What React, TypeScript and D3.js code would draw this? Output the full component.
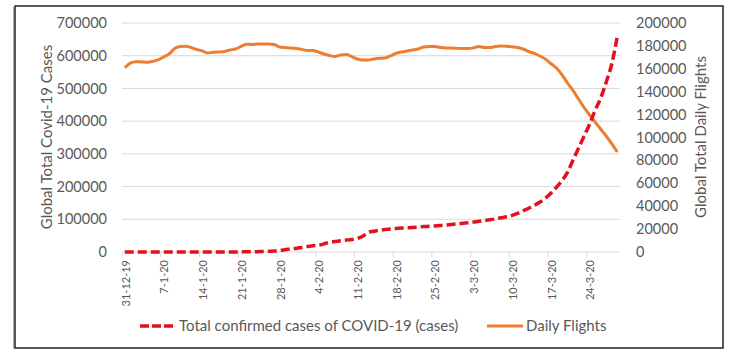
import React from "react";
import * as d3 from "d3";

const startDate = new Date(2019, 11, 31);
const dayCount = 90;
const dates: Date[] = Array.from({ length: dayCount }, (_, i) => d3.timeDay.offset(startDate, i));

const cases: number[] = [
  27, 27, 27, 44, 44, 59, 59, 59, 59, 59,
  59, 59, 59, 59, 59, 59, 59, 59, 59, 62,
  282, 314, 555, 653, 941, 1438, 2118, 2927, 5000, 7000,
  9800, 11000, 14000, 16500, 19000, 20500, 25000, 29700, 31800, 34200,
  36400, 38000, 41000, 48000, 60000, 63300, 66300, 68500, 70600, 71800,
  73000, 74000, 74900, 76100, 77600, 78600, 79800, 81000, 82200, 84100,
  85600, 87700, 89300, 91400, 93900, 96000, 98400, 101200, 104500, 107600,
  112200, 118300, 126000, 133600, 142800, 152000, 164200, 179400, 197800, 217700,
  243600, 280300, 317000, 353700, 390400, 433200, 469900, 518800, 573800, 658000,
];

const flights: number[] = [
  160900, 165000, 166200, 166000, 165800, 166400, 167700, 170300, 172900, 177700,
  179500, 179700, 178600, 176900, 175600, 173800, 174400, 174700, 175100, 176400,
  177300, 179500, 181500, 181200, 181700, 181700, 181700, 181200, 179000, 178600,
  178200, 177700, 176900, 176000, 176000, 174700, 172900, 171600, 170700, 172100,
  172500, 170700, 168600, 167700, 167700, 168600, 169200, 169400, 171200, 173400,
  174700, 175600, 176400, 177300, 179000, 179500, 179500, 178600, 178200, 178200,
  177900, 177700, 177700, 178300, 179500, 178600, 178600, 179500, 179900, 179700,
  179200, 178600, 177300, 175100, 173400, 171200, 168600, 164600, 160700, 155000,
  147600, 141100, 133600, 126200, 119700, 113500, 107400, 101300, 94700, 87300,
];

const leftTicks: number[] = [0, 100000, 200000, 300000, 400000, 500000, 600000, 700000];
const rightTicks: number[] = [0, 20000, 40000, 60000, 80000, 100000, 120000, 140000, 160000, 180000, 200000];

const seriesNames = ["Total confirmed cases of COVID-19 (cases)", "Daily Flights"];
const leftTitle = "Global Total Covid-19 Cases";
const rightTitle = "Global Total Daily Flights";

const W = 739, H = 359;
const plot = { left: 122, right: 620, top: 23, bottom: 252 };
const FONT = "Lato, 'Open Sans', sans-serif";
const GRAY = "#595959";
const RED = "#e3101d";
const ORANGE = "#ED7D31";

const fmtDate = (d: Date) => `${d.getDate()}-${d.getMonth() + 1}-${String(d.getFullYear()).slice(2)}`;

export default function App() {
  const idx = d3.range(dayCount);
  const x = d3.scaleBand<number>().domain(idx).range([plot.left, plot.right]);
  const xc = (i: number) => (x(i) as number) + x.bandwidth() / 2;
  const yL = d3.scaleLinear().domain([0, 700000]).range([plot.bottom, plot.top]);
  const yR = d3.scaleLinear().domain([0, 200000]).range([plot.bottom, plot.top]);

  const lineCases = d3.line<number>().x((_, i) => xc(i)).y((v) => yL(v)).curve(d3.curveMonotoneX)(cases) || "";
  const lineFlights = d3.line<number>().x((_, i) => xc(i)).y((v) => yR(v)).curve(d3.curveMonotoneX)(flights) || "";

  const tickIdx = idx.filter((i) => i % 7 === 0);
  const midY = 137;

  return (
    <svg width={W} height={H} style={{ position: "absolute", left: 0, top: 0, background: "#fff" }} fontFamily={FONT}>
      <rect x={0} y={0} width={W} height={H} fill="#fff" />
      <rect x={15} y={6} width={708} height={342} fill="none" stroke="#222" strokeWidth={1.5} />
      <line x1={13.5} y1={7} x2={13.5} y2={349} stroke="#aaa" strokeWidth={1} />
      {leftTicks.map((t) => (
        <line key={"g" + t} x1={plot.left} x2={plot.right} y1={yL(t)} y2={yL(t)} stroke="#d9d9d9" strokeWidth={1} />
      ))}
      {tickIdx.map((i) => (
        <line key={"tm" + i} x1={x(i) as number} x2={x(i) as number} y1={plot.bottom} y2={plot.bottom + 5} stroke="#d9d9d9" />
      ))}
      {leftTicks.map((t) => (
        <text key={"l" + t} x={107} y={yL(t)} dy="0.35em" textAnchor="end" fontSize={14.5} fill={GRAY}>{t}</text>
      ))}
      {rightTicks.map((t) => (
        <text key={"r" + t} x={636} y={yR(t)} dy="0.35em" textAnchor="start" fontSize={14.5} fill={GRAY}>{t}</text>
      ))}
      {tickIdx.map((i) => (
        <text key={"x" + i} transform={`translate(${xc(i) + 1},${plot.bottom + 8}) rotate(-90)`} textAnchor="end" dy="0.35em" fontSize={11} fill={GRAY}>
          {fmtDate(dates[i])}
        </text>
      ))}
      <text transform={`translate(47,${midY}) rotate(-90)`} textAnchor="middle" dy="0.35em" fontSize={15} fill={GRAY}>{leftTitle}</text>
      <text transform={`translate(701,${midY}) rotate(-90)`} textAnchor="middle" dy="0.35em" fontSize={15} fill={GRAY}>{rightTitle}</text>
      <path d={lineFlights} fill="none" stroke={ORANGE} strokeWidth={3} strokeLinejoin="round" />
      <path d={lineCases} fill="none" stroke={RED} strokeWidth={3.5} strokeDasharray="9,4" />
      <line x1={140} x2={173} y1={326} y2={326} stroke={RED} strokeWidth={3.5} strokeDasharray="9,3" />
      <text x={179} y={326} dy="0.35em" fontSize={15} fill={GRAY}>{seriesNames[0]}</text>
      <line x1={487} x2={523} y1={326} y2={326} stroke={ORANGE} strokeWidth={3} />
      <text x={526} y={326} dy="0.35em" fontSize={15} fill={GRAY}>{seriesNames[1]}</text>
    </svg>
  );
}
